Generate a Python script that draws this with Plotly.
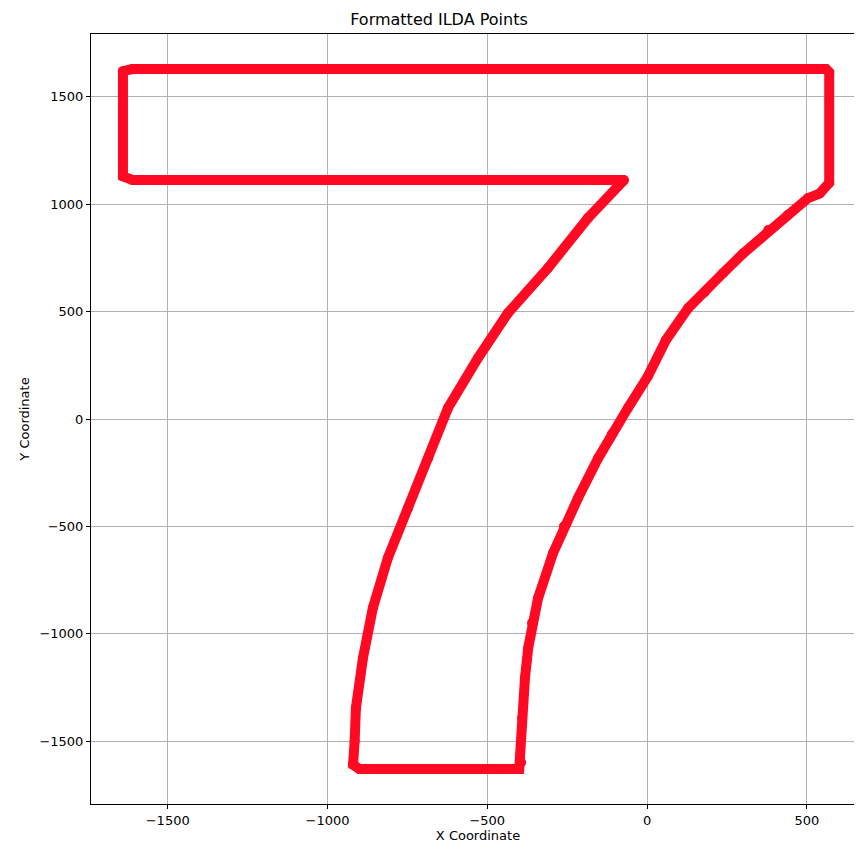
import plotly.graph_objects as go

# outline vertices of the "7" (clockwise from top-left)
x_pts = [-1640, -1610, 560, 570, 570, 540, 504, 440, 379, 300, 238, 180, 129, 60, 3,
         -60, -110, -153, -216, -260, -294, -341, -360, -372, -382, -391, -394, -400,
         -900, -920, -915, -911, -889, -858, -811, -748, -685, -623, -529, -435, -310,
         -185, -72, -1610, -1640, -1640]
y_pts = [1620, 1630, 1630, 1615, 1100, 1050, 1029, 950, 880, 770, 680, 590, 517, 370, 200,
         51, -70, -182, -368, -500, -624, -834, -950, -1067, -1206, -1393, -1600, -1630,
         -1630, -1610, -1500, -1346, -1113, -880, -647, -415, -182, 51, 284, 494, 703,
         936, 1113, 1113, 1130, 1620]

x_ticks = [-1500, -1000, -500, 0, 500]
y_ticks = [-1500, -1000, -500, 0, 500, 1000, 1500]

red = "#ff0a22"

fig = go.Figure(go.Scatter(
    x=x_pts, y=y_pts, mode="lines+markers",
    line=dict(color=red, width=10),
    marker=dict(color=red, size=10),
    showlegend=False))

def lab(v):
    return str(v).replace("-", "\u2212")

axis = dict(showgrid=True, gridcolor="#b0b0b0", gridwidth=1, zeroline=False,
            showline=True, linecolor="black", linewidth=1, mirror=True,
            ticks="outside", ticklen=4, tickcolor="black", automargin=False,
            tickfont=dict(size=13, color="black"))

fig.update_xaxes(axis, range=[-1740, 682], tickvals=x_ticks,
                 ticktext=[lab(v) for v in x_ticks],
                 title=dict(text="X Coordinate", font=dict(size=13, color="black"), standoff=4))
fig.update_yaxes(axis, range=[-1793, 1793], tickvals=y_ticks,
                 ticktext=[lab(v) for v in y_ticks],
                 title=dict(text="Y Coordinate", font=dict(size=13, color="black"), standoff=6))

fig.update_layout(
    width=862, height=845,
    font=dict(family="DejaVu Sans", color="black"),
    title=dict(text="Formatted ILDA Points", x=0.5, xanchor="center", y=0.986,
               yanchor="middle", font=dict(size=16, color="black"), automargin=False),
    margin=dict(l=83, r=5, t=26, b=49),
    paper_bgcolor="white", plot_bgcolor="white",
)

fig.write_html("out.html")
